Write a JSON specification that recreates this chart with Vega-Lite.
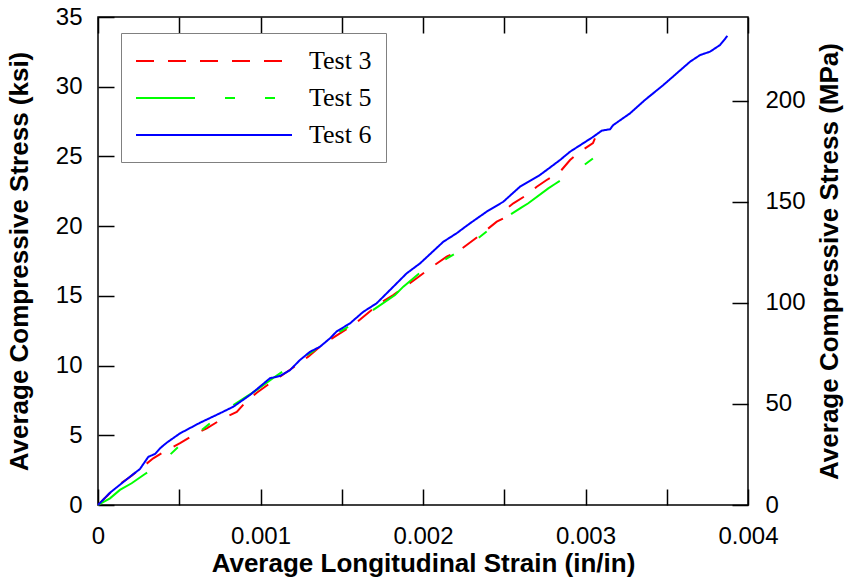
{
  "$schema": "https://vega.github.io/schema/vega-lite/v6.json",
  "autosize": {"type": "none"},
  "padding": {"left": 98, "top": 17, "right": 99, "bottom": 72},
  "width": 650,
  "height": 488,
  "background": "white",
  "config": {
    "view": {"stroke": "black", "strokeWidth": 1.5},
    "axis": {
      "domain": false,
      "grid": false,
      "tickColor": "black",
      "tickWidth": 1.5,
      "tickSize": -16,
      "labelFont": "Liberation Sans",
      "labelFontSize": 24,
      "labelColor": "black",
      "labelOverlap": false,
      "labelFlush": false,
      "titleFont": "Liberation Sans",
      "titleFontSize": 26,
      "titleFontWeight": "bold",
      "titleColor": "black"
    }
  },
  "data": {
    "values": [
      {"test": "Test 3", "strain": 0, "stress": 0},
      {"test": "Test 3", "strain": 0.0000738, "stress": 0.86},
      {"test": "Test 3", "strain": 0.000135, "stress": 1.51},
      {"test": "Test 3", "strain": 0.000197, "stress": 2.01},
      {"test": "Test 3", "strain": 0.000289, "stress": 2.87},
      {"test": "Test 3", "strain": 0.00034, "stress": 3.35},
      {"test": "Test 3", "strain": 0.000423, "stress": 3.94},
      {"test": "Test 3", "strain": 0.000505, "stress": 4.43},
      {"test": "Test 3", "strain": 0.000607, "stress": 5.14},
      {"test": "Test 3", "strain": 0.000669, "stress": 5.5},
      {"test": "Test 3", "strain": 0.000771, "stress": 6.22},
      {"test": "Test 3", "strain": 0.000854, "stress": 6.67},
      {"test": "Test 3", "strain": 0.000905, "stress": 7.34},
      {"test": "Test 3", "strain": 0.000977, "stress": 8.05},
      {"test": "Test 3", "strain": 0.001058, "stress": 8.73},
      {"test": "Test 3", "strain": 0.00112, "stress": 9.2},
      {"test": "Test 3", "strain": 0.001223, "stress": 10.04},
      {"test": "Test 3", "strain": 0.001294, "stress": 10.64},
      {"test": "Test 3", "strain": 0.001366, "stress": 11.35},
      {"test": "Test 3", "strain": 0.001407, "stress": 11.71},
      {"test": "Test 3", "strain": 0.001571, "stress": 12.91},
      {"test": "Test 3", "strain": 0.001735, "stress": 14.47},
      {"test": "Test 3", "strain": 0.001817, "stress": 15.06},
      {"test": "Test 3", "strain": 0.001889, "stress": 15.66},
      {"test": "Test 3", "strain": 0.001961, "stress": 16.26},
      {"test": "Test 3", "strain": 0.002043, "stress": 16.98},
      {"test": "Test 3", "strain": 0.002146, "stress": 17.81},
      {"test": "Test 3", "strain": 0.002228, "stress": 18.29},
      {"test": "Test 3", "strain": 0.002351, "stress": 19.36},
      {"test": "Test 3", "strain": 0.002454, "stress": 20.32},
      {"test": "Test 3", "strain": 0.002494, "stress": 20.56},
      {"test": "Test 3", "strain": 0.002505, "stress": 21.16},
      {"test": "Test 3", "strain": 0.002556, "stress": 21.64},
      {"test": "Test 3", "strain": 0.002638, "stress": 22.23},
      {"test": "Test 3", "strain": 0.0027, "stress": 22.83},
      {"test": "Test 3", "strain": 0.002761, "stress": 23.31},
      {"test": "Test 3", "strain": 0.002843, "stress": 23.9},
      {"test": "Test 3", "strain": 0.002905, "stress": 24.74},
      {"test": "Test 3", "strain": 0.002966, "stress": 25.34},
      {"test": "Test 3", "strain": 0.003046, "stress": 25.96},
      {"test": "Test 3", "strain": 0.003058, "stress": 26.3},
      {"test": "Test 5", "strain": 0, "stress": 0},
      {"test": "Test 5", "strain": 0.0000738, "stress": 0.48},
      {"test": "Test 5", "strain": 0.000135, "stress": 1.08},
      {"test": "Test 5", "strain": 0.000207, "stress": 1.56},
      {"test": "Test 5", "strain": 0.000289, "stress": 2.22},
      {"test": "Test 5", "strain": 0.000351, "stress": 2.7},
      {"test": "Test 5", "strain": 0.000398, "stress": 3.1},
      {"test": "Test 5", "strain": 0.000505, "stress": 4.3},
      {"test": "Test 5", "strain": 0.000566, "stress": 4.66},
      {"test": "Test 5", "strain": 0.0007, "stress": 5.97},
      {"test": "Test 5", "strain": 0.000751, "stress": 6.33},
      {"test": "Test 5", "strain": 0.000833, "stress": 7.17},
      {"test": "Test 5", "strain": 0.000977, "stress": 8.25},
      {"test": "Test 5", "strain": 0.001089, "stress": 9.2},
      {"test": "Test 5", "strain": 0.001243, "stress": 10.4},
      {"test": "Test 5", "strain": 0.001428, "stress": 11.83},
      {"test": "Test 5", "strain": 0.001489, "stress": 12.43},
      {"test": "Test 5", "strain": 0.001592, "stress": 13.15},
      {"test": "Test 5", "strain": 0.001694, "stress": 13.99},
      {"test": "Test 5", "strain": 0.001828, "stress": 15.06},
      {"test": "Test 5", "strain": 0.001879, "stress": 15.66},
      {"test": "Test 5", "strain": 0.002002, "stress": 16.85},
      {"test": "Test 5", "strain": 0.002063, "stress": 17.09},
      {"test": "Test 5", "strain": 0.002217, "stress": 18.17},
      {"test": "Test 5", "strain": 0.002351, "stress": 19.24},
      {"test": "Test 5", "strain": 0.002454, "stress": 20.2},
      {"test": "Test 5", "strain": 0.002607, "stress": 21.35},
      {"test": "Test 5", "strain": 0.002648, "stress": 21.64},
      {"test": "Test 5", "strain": 0.002771, "stress": 22.71},
      {"test": "Test 5", "strain": 0.002812, "stress": 23.02},
      {"test": "Test 5", "strain": 0.002956, "stress": 24.08},
      {"test": "Test 5", "strain": 0.003048, "stress": 24.87},
      {"test": "Test 6", "strain": 0, "stress": 0},
      {"test": "Test 6", "strain": 0.0000738, "stress": 0.88},
      {"test": "Test 6", "strain": 0.000197, "stress": 2.03},
      {"test": "Test 6", "strain": 0.000258, "stress": 2.58},
      {"test": "Test 6", "strain": 0.00031, "stress": 3.46},
      {"test": "Test 6", "strain": 0.000351, "stress": 3.66},
      {"test": "Test 6", "strain": 0.000382, "stress": 4.07},
      {"test": "Test 6", "strain": 0.000423, "stress": 4.47},
      {"test": "Test 6", "strain": 0.000505, "stress": 5.14},
      {"test": "Test 6", "strain": 0.000628, "stress": 5.9},
      {"test": "Test 6", "strain": 0.000751, "stress": 6.58},
      {"test": "Test 6", "strain": 0.000833, "stress": 7.05},
      {"test": "Test 6", "strain": 0.000935, "stress": 7.89},
      {"test": "Test 6", "strain": 0.001058, "stress": 9.09},
      {"test": "Test 6", "strain": 0.00112, "stress": 9.25},
      {"test": "Test 6", "strain": 0.001182, "stress": 9.68},
      {"test": "Test 6", "strain": 0.001243, "stress": 10.4},
      {"test": "Test 6", "strain": 0.001305, "stress": 10.99},
      {"test": "Test 6", "strain": 0.001366, "stress": 11.35},
      {"test": "Test 6", "strain": 0.001428, "stress": 11.96},
      {"test": "Test 6", "strain": 0.001469, "stress": 12.45},
      {"test": "Test 6", "strain": 0.001551, "stress": 13.03},
      {"test": "Test 6", "strain": 0.001633, "stress": 13.86},
      {"test": "Test 6", "strain": 0.001715, "stress": 14.47},
      {"test": "Test 6", "strain": 0.001797, "stress": 15.42},
      {"test": "Test 6", "strain": 0.0019, "stress": 16.62},
      {"test": "Test 6", "strain": 0.001982, "stress": 17.33},
      {"test": "Test 6", "strain": 0.002125, "stress": 18.88},
      {"test": "Test 6", "strain": 0.002207, "stress": 19.49},
      {"test": "Test 6", "strain": 0.002289, "stress": 20.2},
      {"test": "Test 6", "strain": 0.002392, "stress": 21.04},
      {"test": "Test 6", "strain": 0.002494, "stress": 21.75},
      {"test": "Test 6", "strain": 0.002597, "stress": 22.83},
      {"test": "Test 6", "strain": 0.00272, "stress": 23.67},
      {"test": "Test 6", "strain": 0.002843, "stress": 24.74},
      {"test": "Test 6", "strain": 0.002905, "stress": 25.34},
      {"test": "Test 6", "strain": 0.003048, "stress": 26.41},
      {"test": "Test 6", "strain": 0.0031, "stress": 26.85},
      {"test": "Test 6", "strain": 0.003151, "stress": 26.95},
      {"test": "Test 6", "strain": 0.003171, "stress": 27.25},
      {"test": "Test 6", "strain": 0.003274, "stress": 28.09},
      {"test": "Test 6", "strain": 0.003366, "stress": 29.05},
      {"test": "Test 6", "strain": 0.003479, "stress": 30.12},
      {"test": "Test 6", "strain": 0.003643, "stress": 31.79},
      {"test": "Test 6", "strain": 0.003705, "stress": 32.27},
      {"test": "Test 6", "strain": 0.003766, "stress": 32.51},
      {"test": "Test 6", "strain": 0.003828, "stress": 32.99},
      {"test": "Test 6", "strain": 0.003873, "stress": 33.64}
    ]
  },
  "layer": [
    {
      "mark": {"type": "line", "strokeWidth": 2},
      "encoding": {
        "x": {
          "field": "strain", "type": "quantitative",
          "scale": {"domain": [0, 0.004], "nice": false, "zero": false},
          "axis": {
            "orient": "bottom",
            "values": [0, 0.0005, 0.001, 0.0015, 0.002, 0.0025, 0.003, 0.0035, 0.004],
            "labelExpr": "round(datum.value*2000)%2==1 ? '' : (datum.value==0 ? '0' : format(datum.value,'.3f'))",
            "labelPadding": 35,
            "titlePadding": 2,
            "title": "Average Longitudinal Strain (in/in)"
          }
        },
        "y": {
          "field": "stress", "type": "quantitative",
          "scale": {"domain": [0, 35], "nice": false},
          "axis": {
            "orient": "left",
            "values": [0, 5, 10, 15, 20, 25, 30, 35],
            "labelPadding": 32,
            "titlePadding": 23,
            "title": "Average Compressive Stress (ksi)"
          }
        },
        "color": {
          "field": "test", "type": "nominal",
          "scale": {"domain": ["Test 3", "Test 5", "Test 6"], "range": ["#ff0000", "#00ff00", "#0000ff"]},
          "legend": {
            "orient": "none", "legendX": 23, "legendY": 16, "title": null,
            "symbolType": "M-1,0H11", "symbolSize": 676, "symbolStrokeWidth": 2,
            "labelFont": "Liberation Serif", "labelFontSize": 26, "labelColor": "black",
            "strokeColor": "#808080", "fillColor": "white", "padding": 14,
            "rowPadding": 10, "labelOffset": 146
          }
        },
        "strokeDash": {
          "field": "test", "type": "nominal",
          "scale": {"domain": ["Test 3", "Test 5", "Test 6"], "range": [[18, 14], [59, 30, 10, 30, 10, 30], [1, 0]]},
          "legend": {
            "orient": "none", "legendX": 23, "legendY": 16, "title": null,
            "symbolType": "M-1,0H11", "symbolSize": 676, "symbolStrokeWidth": 2,
            "labelFont": "Liberation Serif", "labelFontSize": 26, "labelColor": "black",
            "strokeColor": "#808080", "fillColor": "white", "padding": 14,
            "rowPadding": 10, "labelOffset": 146
          }
        }
      }
    },
    {
      "mark": {"type": "line", "strokeOpacity": 0},
      "encoding": {
        "x": {
          "field": "strain", "type": "quantitative",
          "axis": {
            "orient": "top",
            "values": [0, 0.0005, 0.001, 0.0015, 0.002, 0.0025, 0.003, 0.0035, 0.004],
            "labels": false,
            "title": null
          }
        },
        "y": {
          "field": "stress", "type": "quantitative",
          "axis": {
            "orient": "right",
            "values": [0, 7.2519, 14.5038, 21.7557, 29.0075],
            "labelExpr": "format(datum.value*6.894757,'.0f')",
            "labelPadding": 33,
            "titleAngle": 270,
            "titlePadding": 37,
            "title": "Average Compressive Stress (MPa)"
          }
        },
        "detail": {"field": "test", "type": "nominal"}
      }
    }
  ],
  "resolve": {"axis": {"x": "independent", "y": "independent"}}
}
